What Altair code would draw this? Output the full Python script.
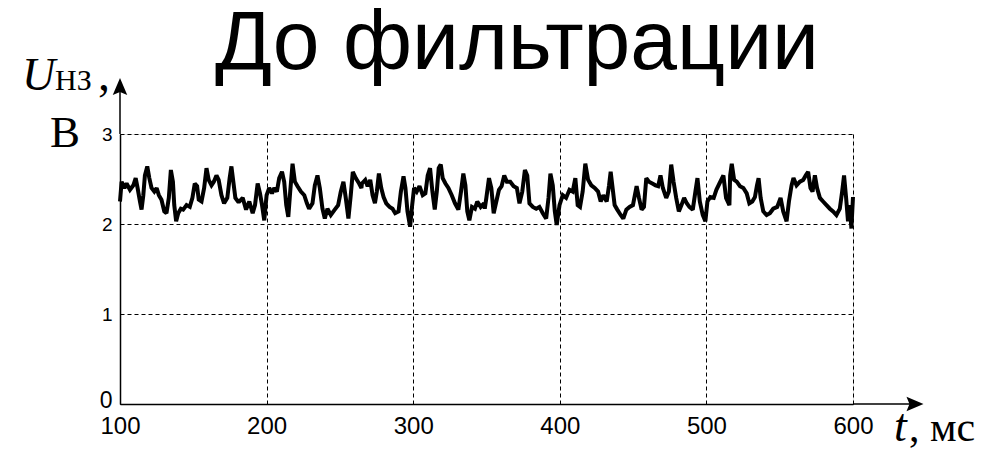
import altair as alt
import pandas as pd

# ---- data (t in ms, U in V) ----
t1 = [100, 101.1, 103, 104.5, 106.8, 109.1, 110.7, 112, 113.6, 114.7,
      115.9, 117, 118.6, 120, 121.5, 123.4, 125, 126.5, 128.3, 130.2,
      131.7, 133.3, 134.7, 136.1, 137, 138.3, 139.7, 141.5, 143.1, 145.4,
      147.6, 149.4, 151, 152.6, 153.7, 155.6, 157.4, 159, 160.5, 162.4,
      164, 165.8, 167.3, 169.2, 171, 173.2, 174.8, 176, 177.3, 178.7, 180.5]
u1 = [2.25, 2.47, 2.40, 2.45, 2.38, 2.43, 2.51, 2.40, 2.25, 2.16,
      2.32, 2.54, 2.64, 2.51, 2.40, 2.36, 2.40, 2.32, 2.27, 2.14,
      2.12, 2.29, 2.60, 2.47, 2.21, 2.03, 2.12, 2.17, 2.16, 2.21,
      2.19, 2.29, 2.45, 2.42, 2.27, 2.25, 2.40, 2.62, 2.49, 2.43,
      2.47, 2.54, 2.49, 2.32, 2.23, 2.29, 2.51, 2.64, 2.47, 2.29, 2.25]

t2 = [181.4, 183.7, 186, 188.2, 190.5, 192.1, 193.9, 195.5, 196.9, 198.4,
      200, 201.8, 203.7, 205.2, 207, 208.6, 210.5, 212, 213.4, 214.8,
      216.1, 217.7, 219.3, 221.1, 223.4, 225.7, 227.5, 229, 231.3, 232.9,
      234.7, 236.3, 238.1, 239.7, 241.5, 243.8, 246.5, 248.8, 250.6, 252.4,
      254, 255.8, 257.4, 258.8, 260.8, 263.1, 264.7]
u2 = [2.25, 2.29, 2.16, 2.25, 2.12, 2.21, 2.45, 2.34, 2.21, 2.04,
      2.32, 2.40, 2.34, 2.40, 2.36, 2.51, 2.58, 2.47, 2.21, 2.08,
      2.36, 2.67, 2.47, 2.42, 2.36, 2.32, 2.23, 2.17, 2.23, 2.43,
      2.54, 2.40, 2.17, 2.06, 2.17, 2.10, 2.16, 2.21, 2.36, 2.47,
      2.29, 2.06, 2.32, 2.58, 2.51, 2.45, 2.40]

t3 = [265, 267.3, 268.9, 270.7, 272.3, 273.9, 275.2, 276.6, 278.2, 279.8,
      281.6, 283.9, 285.9, 287.7, 290, 291.6, 293.4, 294.7, 296.1, 297.9,
      299.3, 300.6, 302.4, 304.3, 306.5, 308.3, 309.9, 311.5, 313.1, 314.7,
      316.1, 317.4, 318.8, 320.1, 322, 324, 326.3, 328.5, 330.8, 332.6,
      334.2, 335.6, 336.9, 338.3, 340.1, 342.1, 343.7, 346, 348.3]
u3 = [2.45, 2.49, 2.42, 2.49, 2.32, 2.23, 2.36, 2.56, 2.40, 2.30,
      2.23, 2.19, 2.17, 2.12, 2.14, 2.36, 2.53, 2.40, 2.14, 1.97,
      2.21, 2.40, 2.36, 2.42, 2.32, 2.34, 2.54, 2.62, 2.36, 2.16,
      2.36, 2.62, 2.66, 2.51, 2.45, 2.40, 2.32, 2.23, 2.16, 2.36,
      2.56, 2.43, 2.14, 2.04, 2.19, 2.17, 2.25, 2.19, 2.23]

t4 = [348.8, 349.9, 351.7, 353.3, 354.9, 356.7, 358.5, 360.3, 362.1, 363.9,
      366.2, 368.5, 370.7, 372.5, 374.4, 376.2, 377.8, 379.3, 381.6, 383.9,
      386.1, 388.4, 390.7, 392.3, 393.6, 395.2, 396.6, 397.9, 399.8, 402,
      404.3, 406.6, 408.8, 410.6, 412.2, 413.8, 415.6, 417.4, 419.3, 421.5,
      423.8, 426.1, 427.9, 429.7, 432]
u4 = [2.17, 2.29, 2.51, 2.40, 2.12, 2.25, 2.38, 2.42, 2.54, 2.47,
      2.47, 2.42, 2.40, 2.23, 2.36, 2.60, 2.54, 2.23, 2.19, 2.17,
      2.19, 2.12, 2.06, 2.29, 2.56, 2.43, 2.14, 1.99, 2.21, 2.32,
      2.29, 2.38, 2.36, 2.51, 2.21, 2.19, 2.36, 2.67, 2.49, 2.43,
      2.40, 2.36, 2.25, 2.32, 2.25]

t5 = [433.6, 434.7, 435.8, 437.4, 439.2, 441.5, 443.3, 445.4, 447.6, 449.9,
      452.4, 454, 455.8, 457.4, 459, 460.8, 463.1, 465.3, 467.1, 468.7,
      470.3, 472.6, 474.4, 476, 477.6, 479.4, 481.2, 483, 484.8, 486.6,
      488.4, 490.7, 492.5, 493.9, 495.5, 497.5, 499.3, 500.7, 502.7, 505,
      506.8, 508.9, 511.6, 513.4, 515.7]
u5 = [2.43, 2.58, 2.43, 2.21, 2.16, 2.10, 2.06, 2.16, 2.19, 2.21,
      2.42, 2.29, 2.16, 2.19, 2.51, 2.47, 2.45, 2.43, 2.42, 2.54,
      2.40, 2.29, 2.36, 2.66, 2.47, 2.29, 2.14, 2.21, 2.29, 2.23,
      2.19, 2.16, 2.36, 2.51, 2.25, 2.10, 2.03, 2.25, 2.30, 2.29,
      2.38, 2.45, 2.54, 2.29, 2.21]

t6 = [516.2, 517.3, 518.9, 520.7, 522.9, 525.2, 527.5, 529.3, 531.3, 533.1,
      534.5, 535.6, 537, 538.8, 541.1, 543.3, 545.6, 548.3, 550.6, 552.4,
      554.7, 556.3, 558.1, 559.4, 561.5, 563.8, 566, 567.8, 569.4, 571,
      572.4, 574, 575.5, 577.4, 579.6, 581.9, 584.2, 586.4, 588.7, 591,
      592.6, 593.9, 595.3, 596.6, 597.8, 598.9, 600]
u6 = [2.54, 2.67, 2.49, 2.47, 2.42, 2.40, 2.34, 2.23, 2.25, 2.30,
      2.43, 2.51, 2.29, 2.14, 2.10, 2.12, 2.17, 2.19, 2.29, 2.14,
      2.03, 2.25, 2.43, 2.51, 2.43, 2.47, 2.49, 2.54, 2.58, 2.40,
      2.36, 2.54, 2.40, 2.29, 2.25, 2.21, 2.17, 2.14, 2.10, 2.17,
      2.36, 2.54, 2.29, 2.03, 2.21, 1.95, 2.30]

x_ticks = [100, 200, 300, 400, 500, 600]
y_ticks = [0, 1, 2, 3]
title_text = "До фильтрации"

t_all, u_all = [], []
for ts, us in [(t1, u1), (t2, u2), (t3, u3), (t4, u4), (t5, u5), (t6, u6)]:
    assert len(ts) == len(us)
    t_all += ts
    u_all += us
df = pd.DataFrame({"t": t_all, "u": u_all})
one = pd.DataFrame({"k": [0]})

W, H = 733, 270
SERIF = "Liberation Serif"
SANS = "Liberation Sans"

x_axis = alt.Axis(values=x_ticks, title=None, ticks=False, labelPadding=10,
                  labelFontSize=24, labelFont=SANS, labelColor="black",
                  labelFlush=False, labelOverlap=False,
                  domainColor="black", domainWidth=1.5,
                  grid=True, gridColor="black", gridDash=[4, 3], gridWidth=1,
                  gridOpacity=1)
y_axis = alt.Axis(values=y_ticks, title=None, ticks=False, labelPadding=8,
                  labelFontSize={"condition": {"test": "datum.value == 0", "value": 23},
                                 "value": 19},
                  labelOffset={"condition": {"test": "datum.value == 0", "value": -4},
                               "value": 0},
                  labelFont=SANS, labelColor="black", labelBaseline="middle",
                  labelFlush=False, labelOverlap=False,
                  domainColor="black", domainWidth=1.5,
                  grid=True, gridColor="black", gridDash=[4, 3], gridWidth=1,
                  gridOpacity=1)

line = alt.Chart(df).mark_line(color="black", strokeWidth=4, strokeJoin="miter",
                               strokeMiterLimit=2).encode(
    x=alt.X("t:Q", scale=alt.Scale(domain=[100, 600], nice=False, zero=False), axis=x_axis),
    y=alt.Y("u:Q", scale=alt.Scale(domain=[0, 3], nice=False), axis=y_axis),
)

# axis arrows
y_rule = alt.Chart(one).mark_rule(color="black", strokeWidth=1.5).encode(
    x=alt.value(0), y=alt.value(-44), y2=alt.value(0))
y_head = alt.Chart(one).mark_point(
    shape="M0,-1L-0.85,1L0,0.65L0.85,1Z", filled=True, color="black",
    opacity=1, size=290, strokeWidth=0).encode(x=alt.value(0), y=alt.value(-47.5))
x_rule = alt.Chart(one).mark_rule(color="black", strokeWidth=1.5).encode(
    x=alt.value(W), x2=alt.value(790), y=alt.value(H))
x_head = alt.Chart(one).mark_point(
    shape="M1,0L-1,-0.85L-0.65,0L-1,0.85Z", filled=True, color="black",
    opacity=1, size=290, strokeWidth=0).encode(x=alt.value(795), y=alt.value(H))


def label(text, x, y, size, italic=False, font=SERIF, align="left"):
    kw = dict(text=text, font=font, fontSize=size, align=align,
              baseline="alphabetic", color="black")
    if italic:
        kw["fontStyle"] = "italic"
    return alt.Chart(one).mark_text(**kw).encode(x=alt.value(x), y=alt.value(y))


labels = [
    label(title_text, 397, -65, 84, font=SANS, align="center"),
    label("U", -98, -44, 46, italic=True),
    label("НЗ", -65, -44, 30),
    label(",", -22, -44, 48),
    label("В", -70, 13, 45),
    label("t", 774, 307, 46, italic=True),
    label(", мс", 789, 307, 42),
]

chart = alt.layer(line, y_rule, y_head, x_rule, x_head, *labels).properties(
    width=W, height=H,
    autosize=alt.AutoSizeParams(type="none"),
    padding={"left": 112, "top": 126, "right": 131, "bottom": 48},
).configure_view(stroke="black", strokeWidth=1).configure(background="white")

chart.save("out.html", embed_options={"renderer": "svg", "actions": False})
